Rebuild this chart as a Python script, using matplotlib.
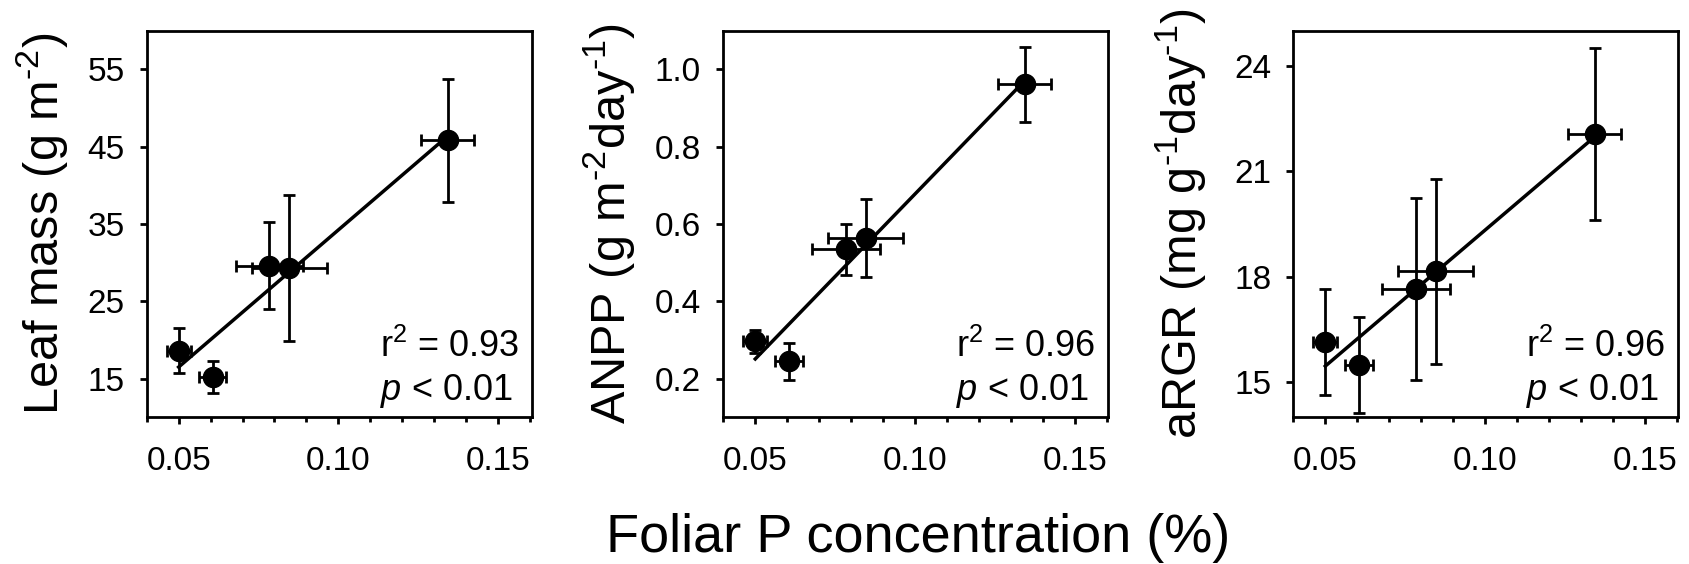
import numpy as np
import matplotlib.pyplot as plt
from matplotlib.ticker import MultipleLocator

plt.rcParams['font.family'] = 'Liberation Sans'
plt.rcParams['mathtext.fontset'] = 'custom'
plt.rcParams['mathtext.rm'] = 'Liberation Sans'
plt.rcParams['mathtext.it'] = 'Liberation Sans:italic'

# foliar P (%) and its error, shared by all three panels
foliar_p = [0.0500, 0.0606, 0.0784, 0.0846, 0.1343]
foliar_p_err = [0.0038, 0.0043, 0.0106, 0.0117, 0.0083]

leaf_mass = [18.6, 15.2, 29.6, 29.3, 45.8]
leaf_mass_err = [2.9, 2.1, 5.6, 9.4, 7.9]

anpp = [0.297, 0.245, 0.535, 0.564, 0.961]
anpp_err = [0.030, 0.048, 0.066, 0.100, 0.096]

argr = [16.14, 15.48, 17.65, 18.16, 22.07]
argr_err = [1.50, 1.36, 2.60, 2.63, 2.45]

ylabels = [r"Leaf mass (g m$^{\text{-}2}$)",
           r"ANPP (g m$^{\text{-}2}$day$^{\text{-}1}$)",
           r"aRGR (mg g$^{\text{-}1}$day$^{\text{-}1}$)"]
r2_values = ["0.93", "0.96", "0.96"]
ylims = [(10, 60), (0.1, 1.1), (14, 25)]
yticks = [[15, 25, 35, 45, 55], [0.2, 0.4, 0.6, 0.8, 1.0], [15, 18, 21, 24]]
ytick_fmt = ["{:.0f}", "{:.1f}", "{:.0f}"]

fig = plt.figure(figsize=(16.9, 5.64), dpi=100)
lefts = [0.0868, 0.4280, 0.7653]
label_x = [-0.199, -0.224, -0.219]

x = np.array(foliar_p)
for i, (y, yerr) in enumerate([(leaf_mass, leaf_mass_err),
                               (anpp, anpp_err),
                               (argr, argr_err)]):
    ax = fig.add_axes([lefts[i], 0.2601, 0.2278, 0.6855])
    y = np.array(y)

    slope, icpt = np.polyfit(x, y, 1)
    xl = np.array([x.min(), x.max()])
    ax.plot(xl, slope * xl + icpt, color="k", lw=2.5, zorder=2)

    ax.errorbar(x, y, xerr=foliar_p_err, yerr=yerr, fmt="o", color="k",
                ms=14.5, elinewidth=2, capsize=4, capthick=2, zorder=3)

    ax.set_xlim(0.04, 0.1605)
    ax.set_ylim(*ylims[i])
    ax.xaxis.set_minor_locator(MultipleLocator(0.01))
    ax.set_xticks([0.05, 0.10, 0.15])
    ax.set_xticklabels(["0.05", "0.10", "0.15"])
    ax.set_yticks(yticks[i])
    ax.set_yticklabels([ytick_fmt[i].format(v) for v in yticks[i]])

    for s in ax.spines.values():
        s.set_linewidth(2)
    ax.tick_params(axis="both", which="both", direction="out", width=2,
                   labelsize=24)
    ax.tick_params(axis="x", which="major", length=4.8, pad=16)
    ax.tick_params(axis="x", which="minor", length=3.4)
    ax.tick_params(axis="y", which="major", length=5, pad=11)

    ax.set_ylabel(ylabels[i], fontsize=35)
    ax.yaxis.set_label_coords(label_x[i], 0.5)

    ax.text(0.605, 0.155, "r$^{2}$ = " + r2_values[i], transform=ax.transAxes,
            fontsize=26, ha="left", va="baseline")
    ax.text(0.605, 0.046, "$p$ < 0.01", transform=ax.transAxes,
            fontsize=26, ha="left", va="baseline")

fig.text(0.5435, 0.0213, "Foliar P concentration (%)", fontsize=39,
         ha="center", va="baseline")

plt.savefig("out.png", dpi=100)
